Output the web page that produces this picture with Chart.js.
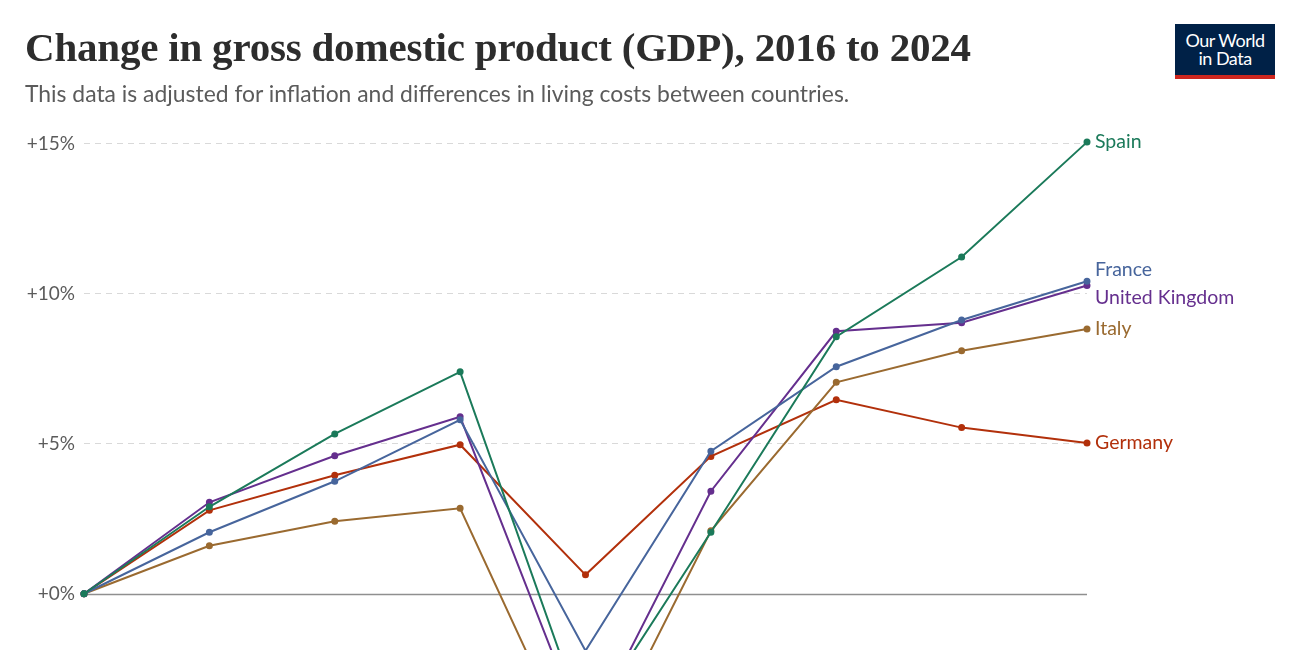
<!DOCTYPE html>
<html>
<head>
  <title>Change in GDP, 2016 to 2024</title>
  <script src="https://cdn.jsdelivr.net/npm/chart.js"></script>
  <style>
    html, body { margin: 0; padding: 0; background: #fff; overflow: hidden; }
    #wrap { position: relative; width: 1300px; height: 650px; }
    canvas { position: absolute; left: 0; top: 0; }
    h1 { position: absolute; left: 25px; top: 23px; margin: 0; font-family: "Liberation Serif", serif; font-weight: bold; font-size: 41px; line-height: 48px; color: #2d2d2d; letter-spacing: -0.2px; white-space: nowrap; }
    .sub { position: absolute; left: 25px; top: 79px; margin: 0; font-family: Lato, sans-serif; font-size: 22.9px; color: #5b5b5b; white-space: nowrap; }
    .logo { position: absolute; left: 1175px; top: 24px; width: 100px; height: 44px; padding-top: 7px; background: #002147; border-bottom: 4px solid #ce261e; color: #fff; font-family: Lato, sans-serif; font-size: 18px; line-height: 18px; text-align: center; letter-spacing: -0.5px; }
  </style>
</head>
<body>
<div id="wrap">
  <canvas id="gdpChart" width="1300" height="650"></canvas>
  <h1>Change in gross domestic product (GDP), 2016 to 2024</h1>
  <p class="sub">This data is adjusted for inflation and differences in living costs between countries.</p>
  <div class="logo">Our World<br>in Data</div>
</div>
<script>
  const years = ['2016', '2017', '2018', '2019', '2020', '2021', '2022', '2023', '2024'];
  const yTicks = [0, 5, 10, 15];

  const spain   = [0, 2.9, 5.33, 7.4, -4.4, 2.05, 8.57, 11.23, 15.06];
  const france  = [0, 2.05, 3.75, 5.8, -1.9, 4.75, 7.57, 9.13, 10.42];
  const uk      = [0, 3.05, 4.6, 5.9, -4.8, 3.42, 8.75, 9.04, 10.28];
  const italy   = [0, 1.6, 2.42, 2.85, -6.2, 2.1, 7.05, 8.1, 8.83];
  const germany = [0, 2.78, 3.95, 4.97, 0.63, 4.58, 6.47, 5.54, 5.03];

  const series = [
    { label: 'Spain', data: spain, color: '#1b7a5a' },
    { label: 'France', data: france, color: '#47659c' },
    { label: 'United Kingdom', data: uk, color: '#652f8e' },
    { label: 'Italy', data: italy, color: '#9a6a30' },
    { label: 'Germany', data: germany, color: '#b2300b' }
  ];

  // labels at the end of each line, pushed apart when they collide
  const endLabels = {
    id: 'endLabels',
    afterDatasetsDraw(chart) {
      const ctx = chart.ctx;
      const items = chart.data.datasets.map((ds, i) => {
        const pts = chart.getDatasetMeta(i).data;
        const p = pts[pts.length - 1];
        return { text: ds.label, color: ds.borderColor, x: p.x, y: p.y };
      }).sort((a, b) => a.y - b.y);
      const gap = 28;
      for (let k = 0; k < 5; k++) {
        for (let i = 1; i < items.length; i++) {
          const d = items[i].y - items[i - 1].y;
          if (d < gap) {
            const push = (gap - d) / 2;
            items[i - 1].y -= push;
            items[i].y += push;
          }
        }
      }
      ctx.save();
      ctx.font = '19.5px Lato';
      ctx.textBaseline = 'middle';
      ctx.textAlign = 'left';
      items.forEach(it => {
        ctx.fillStyle = it.color;
        ctx.fillText(it.text, it.x + 8, it.y);
      });
      ctx.restore();
    }
  };

  // solid zero line under the data
  const zeroLine = {
    id: 'zeroLine',
    beforeDatasetsDraw(chart) {
      const { ctx, chartArea, scales } = chart;
      const y = Math.round(scales.y.getPixelForValue(0)) + 0.5;
      ctx.save();
      ctx.strokeStyle = '#8f8f8f';
      ctx.lineWidth = 1.3;
      ctx.beginPath();
      ctx.moveTo(chartArea.left, y);
      ctx.lineTo(chartArea.right, y);
      ctx.stroke();
      ctx.restore();
    }
  };

  new Chart(document.getElementById('gdpChart'), {
    type: 'line',
    data: {
      labels: years,
      datasets: series.map(s => ({
        label: s.label,
        data: s.data,
        borderColor: s.color,
        backgroundColor: s.color,
        borderWidth: 2,
        pointRadius: 2.5,
        pointHoverRadius: 2.5,
        tension: 0,
        clip: false
      }))
    },
    options: {
      responsive: false,
      animation: false,
      layout: { padding: { left: 0, right: 213, top: 124, bottom: 0 } },
      plugins: { legend: { display: false }, tooltip: { enabled: false } },
      scales: {
        x: { display: false, offset: false },
        y: {
          min: -1.726,
          max: 15.664,
          afterFit(s) { s.width = 84; s.paddingTop = 0; s.paddingBottom = 0; },
          afterBuildTicks(s) { s.ticks = yTicks.map(v => ({ value: v })); },
          border: { display: false, dash: [6, 5] },
          grid: {
            drawTicks: false,
            color: c => c.tick && c.tick.value === 0 ? 'rgba(0,0,0,0)' : '#d9d9d9',
            lineWidth: 1
          },
          ticks: {
            padding: 9,
            color: '#5b5b5b',
            font: { family: 'Lato', size: 19 },
            callback: v => '+' + v + '%'
          }
        }
      }
    },
    plugins: [zeroLine, endLabels]
  });
</script>
</body>
</html>
